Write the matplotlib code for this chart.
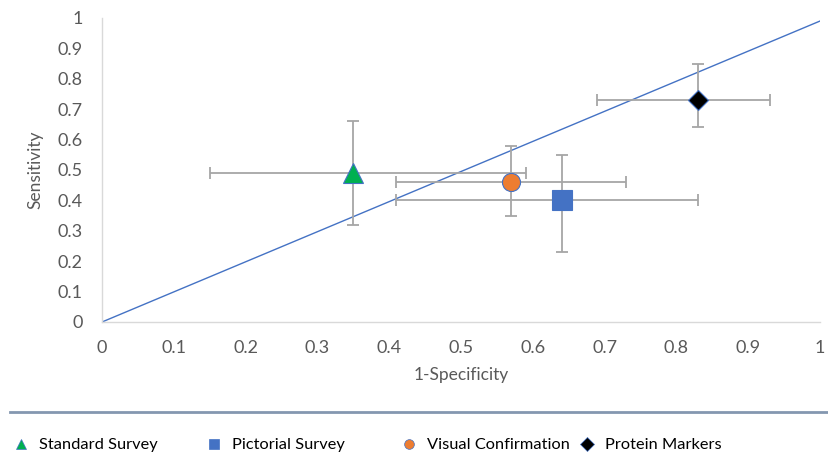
import matplotlib
matplotlib.use("Agg")
import matplotlib.pyplot as plt
from matplotlib.lines import Line2D

plt.rcParams['font.family'] = ['Lato', 'DejaVu Sans']

names = ["Standard Survey", "Pictorial Survey", "Visual Confirmation", "Protein Markers"]
spec = [0.35, 0.64, 0.57, 0.83]
sens = [0.49, 0.40, 0.46, 0.73]
spec_lo = [0.15, 0.41, 0.41, 0.69]
spec_hi = [0.59, 0.83, 0.73, 0.93]
sens_lo = [0.32, 0.23, 0.35, 0.64]
sens_hi = [0.66, 0.55, 0.58, 0.85]
diag_x = [0, 1]
diag_y = [0, 0.99]

markers = ["^", "s", "o", "D"]
colors = ["#00B050", "#4472C4", "#ED7D31", "#000000"]
sizes = [15, 14, 13, 10]

ticks = [0, 0.1, 0.2, 0.3, 0.4, 0.5, 0.6, 0.7, 0.8, 0.9, 1]
tick_labels = ["0", "0.1", "0.2", "0.3", "0.4", "0.5", "0.6", "0.7", "0.8", "0.9", "1"]

W, H = 829, 455
fig = plt.figure(figsize=(W / 100, H / 100), dpi=100)
ax = fig.add_axes([102 / W, 1 - 322 / H, 718 / W, 304 / H])

ax.plot(diag_x, diag_y, color="#4472C4", lw=1.0, zorder=2)

for i in range(len(names)):
    xerr = [[spec[i] - spec_lo[i]], [spec_hi[i] - spec[i]]]
    yerr = [[sens[i] - sens_lo[i]], [sens_hi[i] - sens[i]]]
    ax.errorbar(spec[i], sens[i], xerr=xerr, yerr=yerr, fmt="none",
                ecolor="#A6A6A6", elinewidth=1.3, capsize=4, capthick=1.3, zorder=3)
    ax.plot(spec[i], sens[i], marker=markers[i], ms=sizes[i], color=colors[i],
            mec="#4472C4", mew=0.8, ls="none", zorder=4)

ax.set_xlim(0, 1)
ax.set_ylim(0, 1)
ax.set_xticks(ticks)
ax.set_xticklabels(tick_labels)
ax.set_yticks(ticks)
ax.set_yticklabels(tick_labels)
ax.tick_params(length=0, labelsize=13, colors="#595959")
ax.tick_params(axis="x", pad=13)
ax.tick_params(axis="y", pad=14)
for s in ["top", "right"]:
    ax.spines[s].set_visible(False)
for s in ["left", "bottom"]:
    ax.spines[s].set_color("#D9D9D9")
    ax.spines[s].set_linewidth(1.0)

ax.set_xlabel("1-Specificity", fontsize=12.5, color="#595959", labelpad=8)
ax.set_ylabel("Sensitivity", fontsize=12.5, color="#595959", labelpad=10)

# separator line above the legend
fig.add_artist(Line2D([10 / W, 1], [1 - 412 / H, 1 - 412 / H], color="#8497B0", lw=2))

# legend entries sit in fixed slots
slot_x = [5, 198, 393, 571]
for i in range(len(names)):
    h = Line2D([], [], marker=markers[i], color=colors[i], ls="none", ms=7,
               mec="#4472C4", mew=0.5)
    fig.legend(handles=[h], labels=[names[i]], loc="center left",
               bbox_to_anchor=(slot_x[i] / W, 1 - 445 / H), frameon=False,
               fontsize=11.8, handletextpad=0.5, handlelength=1.2, borderaxespad=0)

fig.savefig("out.png", dpi=100)
